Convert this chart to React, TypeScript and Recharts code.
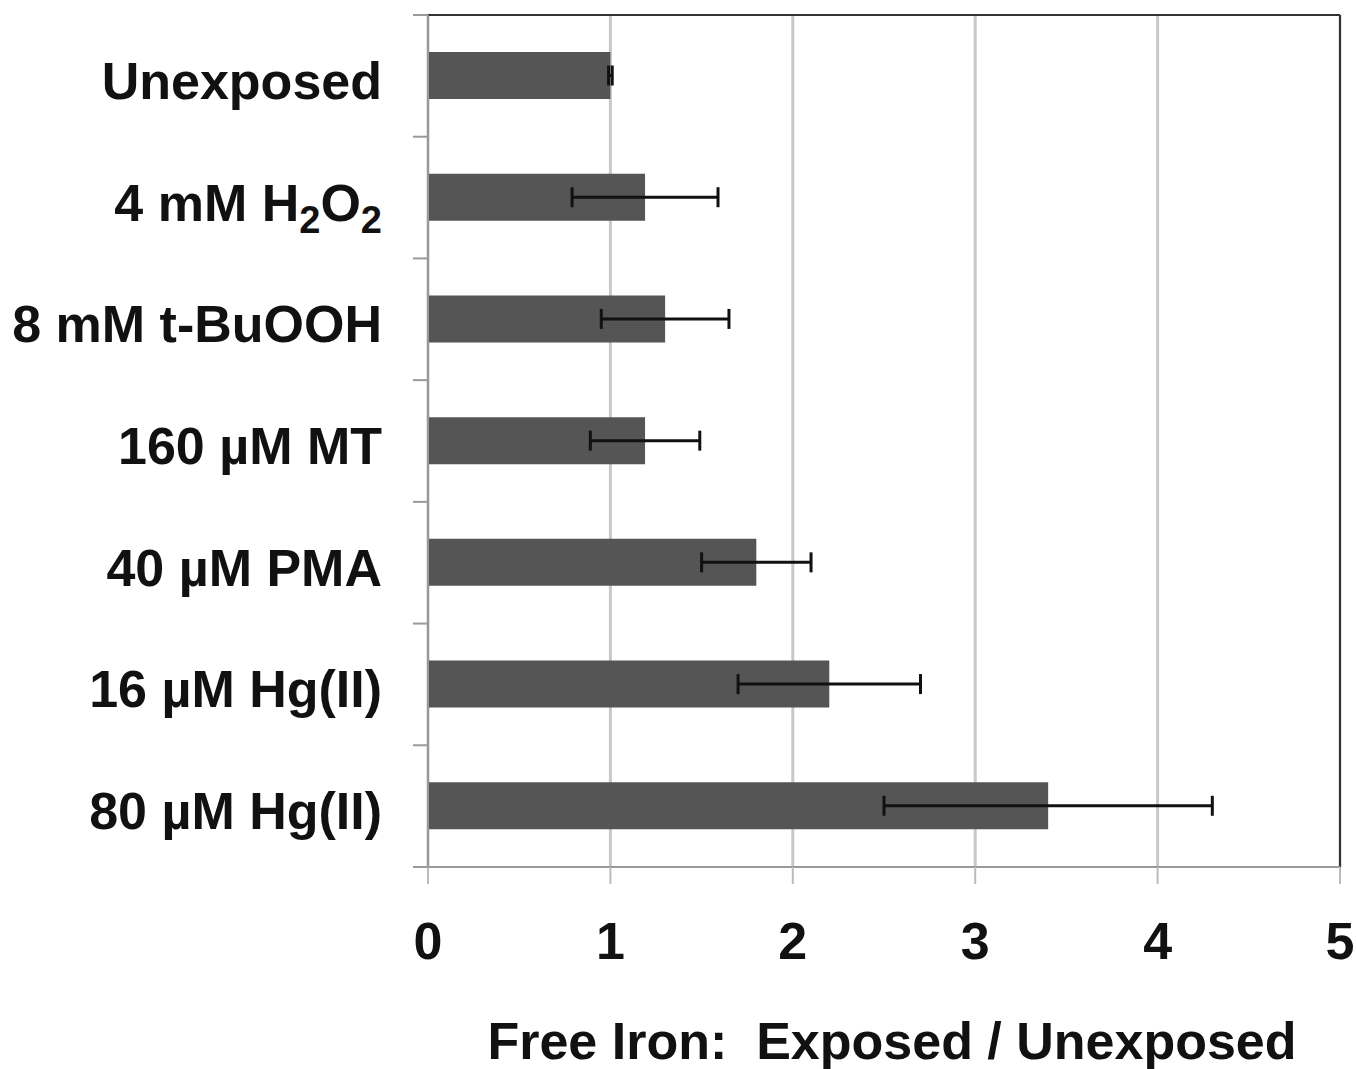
import { BarChart, Bar, XAxis, YAxis, CartesianGrid, ErrorBar, ReferenceLine } from 'recharts';

const treatments = ['Unexposed', '4 mM H2O2', '8 mM t-BuOOH', '160 µM MT', '40 µM PMA', '16 µM Hg(II)', '80 µM Hg(II)'];
const ratios = [1.0, 1.19, 1.3, 1.19, 1.8, 2.2, 3.4];
const errors = [0.01, 0.4, 0.35, 0.3, 0.3, 0.5, 0.9];
const xTicks = [0, 1, 2, 3, 4, 5];

const data = treatments.map((name, i) => ({ name, ratio: ratios[i], err: errors[i] }));

const W = 1356;
const H = 1069;
const TOP = 14;
const RIGHT = 16;
const Y_AXIS_W = 428;
const X_AXIS_H = 202;
const BAND = (H - TOP - 1 - X_AXIS_H) / treatments.length;
const FONT = 'Liberation Sans, Arial, sans-serif';

// split "H2O2" style names into normal / subscript pieces
const splitSubs = (s: string) => {
  const parts: { t: string; sub: boolean }[] = [];
  let buf = '';
  for (let i = 0; i < s.length; i++) {
    const c = s[i];
    const prev = s[i - 1];
    if (/\d/.test(c) && prev && /[A-Za-z]/.test(prev)) {
      if (buf) parts.push({ t: buf, sub: false });
      buf = '';
      parts.push({ t: c, sub: true });
    } else buf += c;
  }
  if (buf) parts.push({ t: buf, sub: false });
  return parts;
};

const CategoryTick = (props: any) => {
  const { x, y, payload, index } = props;
  const parts = splitSubs(String(payload.value));
  let shifted = false;
  return (
    <g>
      <line x1={Y_AXIS_W - 15} x2={Y_AXIS_W} y1={y - BAND / 2} y2={y - BAND / 2} stroke="#999" strokeWidth={2} />
      {index === treatments.length - 1 && (
        <line x1={Y_AXIS_W - 15} x2={Y_AXIS_W} y1={y + BAND / 2} y2={y + BAND / 2} stroke="#999" strokeWidth={2} />
      )}
      <text x={x} y={y + 23} textAnchor="end" fill="#111" fontSize={52} fontWeight="bold" fontFamily={FONT}>
        {parts.map((p, i) => {
          let dy = 0;
          if (p.sub && !shifted) { dy = 12; shifted = true; }
          else if (!p.sub && shifted) { dy = -12; shifted = false; }
          return (
            <tspan key={i} dy={dy} fontSize={p.sub ? 38 : 52}>{p.t}</tspan>
          );
        })}
      </text>
    </g>
  );
};

const AxisTitle = (props: any) => {
  const vb = props.viewBox;
  return (
    <text x={vb.x + vb.width / 2 + 8} y={H - 10} textAnchor="middle" fill="#111" fontSize={52} fontWeight="bold" fontFamily={FONT}>
      {'Free Iron:\u00a0 Exposed / Unexposed'}
    </text>
  );
};

export default function App() {
  return (
    <div style={{ position: 'absolute', left: 0, top: 0, background: '#fff' }}>
      <BarChart width={W} height={H} data={data} layout="vertical" margin={{ top: TOP, right: RIGHT, left: 0, bottom: 0 }} barCategoryGap={0}>
        <CartesianGrid horizontal={false} stroke="#c8c8c8" strokeWidth={3} />
        <XAxis
          type="number"
          domain={[0, 5]}
          ticks={xTicks}
          height={X_AXIS_H}
          tickSize={17}
          tickMargin={38}
          axisLine={{ stroke: '#999', strokeWidth: 2 }}
          tickLine={{ stroke: '#bbb', strokeWidth: 2 }}
          tick={{ fill: '#111', fontSize: 52, fontWeight: 'bold', fontFamily: FONT }}
          label={<AxisTitle />}
        />
        <XAxis
          xAxisId="top"
          orientation="top"
          type="number"
          domain={[0, 5]}
          height={1}
          tick={false}
          tickLine={false}
          axisLine={{ stroke: '#333', strokeWidth: 2 }}
        />
        <YAxis
          type="category"
          dataKey="name"
          width={Y_AXIS_W}
          tickSize={15}
          tickMargin={31}
          tickLine={false}
          axisLine={{ stroke: '#999', strokeWidth: 2 }}
          tick={<CategoryTick />}
          interval={0}
        />
        <ReferenceLine x={5} stroke="#333" strokeWidth={2} />
        <Bar dataKey="ratio" fill="#555555" barSize={47} isAnimationActive={false}>
          <ErrorBar dataKey="err" direction="x" width={10} stroke="#111" strokeWidth={3} isAnimationActive={false} />
        </Bar>
      </BarChart>
    </div>
  );
}
